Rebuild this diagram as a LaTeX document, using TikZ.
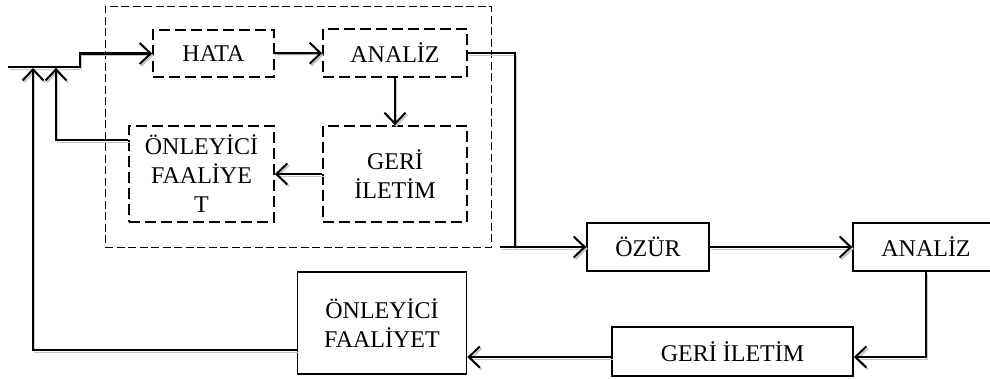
\documentclass[tikz,border=0pt]{standalone}
\usepackage{fontspec}
\setmainfont{Liberation Serif}
\usetikzlibrary{arrows.meta}
\begin{document}
\begin{tikzpicture}[x=1pt,y=-1pt,
  lbl/.style={font=\fontsize{24}{29}\selectfont, align=center, inner sep=0pt},
  solidbox/.style={lbl, draw, line width=1.7pt},
  dashbox/.style={lbl, draw, line width=1.7pt, dash pattern=on 11pt off 5pt},
  groupbox/.style={draw, line width=0.9pt, dash pattern=on 8pt off 3.5pt, inner sep=0pt},
  tip/.style={-{Straight Barb[length=11pt,width=21pt,line width=2pt]}},
  shade/.style={preaction={draw=black!22, transform canvas={shift={(1.6pt,-1.8pt)}}}},
  heavy/.style={line width=2.3pt, shade},
  light/.style={line width=1.3pt, shade},
]
\clip (0,0) rectangle (990,378);
\useasboundingbox (0,0) rectangle (990,378);

% dashed group around the inner loop
\node[groupbox, minimum width=386pt, minimum height=241pt] (group) at (298,126.5) {};

% inner loop
\node[dashbox, minimum width=121pt, minimum height=47pt] (hata) at (213.5,53.5) {HATA};
\node[dashbox, minimum width=144pt, minimum height=48pt] (analizd) at (395,53) {ANALİZ};
\node[dashbox, minimum width=144pt, minimum height=96pt] (gerid) at (395,174) {GERİ\\İLETİM};
\node[dashbox, minimum width=145pt, minimum height=96pt] (onleyd) at (201.5,174) {ÖNLEYİCİ\\FAALİYE\\T};

% outer loop
\node[solidbox, minimum width=122pt, minimum height=48pt] (ozur) at (648,247) {ÖZÜR};
\node[solidbox, minimum width=146pt, minimum height=48pt] (analiz) at (926,247) {ANALİZ};
\node[solidbox, minimum width=241pt, minimum height=49pt] (geri) at (732.5,351.5) {GERİ İLETİM};
\node[solidbox, minimum width=169pt, minimum height=102pt] (onley) at (382,323) {ÖNLEYİCİ\\FAALİYET};

% input line
\coordinate (start) at (8,67);
\coordinate (bend) at (80,67);
\coordinate (feedA) at (56,68);
\coordinate (feedB) at (33,68);

\draw[heavy, tip] (start) -- (bend) |- (hata.west);
\draw[heavy, tip] (hata) -- (analizd);
\draw[heavy, tip] (analizd) -- (gerid);
\draw[heavy, tip] (gerid) -- (onleyd);
\draw[light] ([yshift=34pt]onleyd.west) -| (feedA);
\draw[heavy, tip] (feedA |- 0,100) -- (feedA);

\draw[light] (analizd.east) -- (515,53) |- (500,247);
\draw[heavy, tip] (514,247) -- (ozur.west);
\draw[heavy, tip] (ozur) -- (analiz);
\draw[light] (analiz.south) |- (900,357);
\draw[heavy, tip] (910,357) -- ([yshift=-5.5pt]geri.east);
\draw[heavy, tip] ([yshift=-5.5pt]geri.west) -- (onley.east |- 0,357);
\draw[heavy] ([yshift=-27pt]onley.west) -| (33,120);
\draw[heavy, tip] (33,130) -- (feedB);
\end{tikzpicture}
\end{document}
